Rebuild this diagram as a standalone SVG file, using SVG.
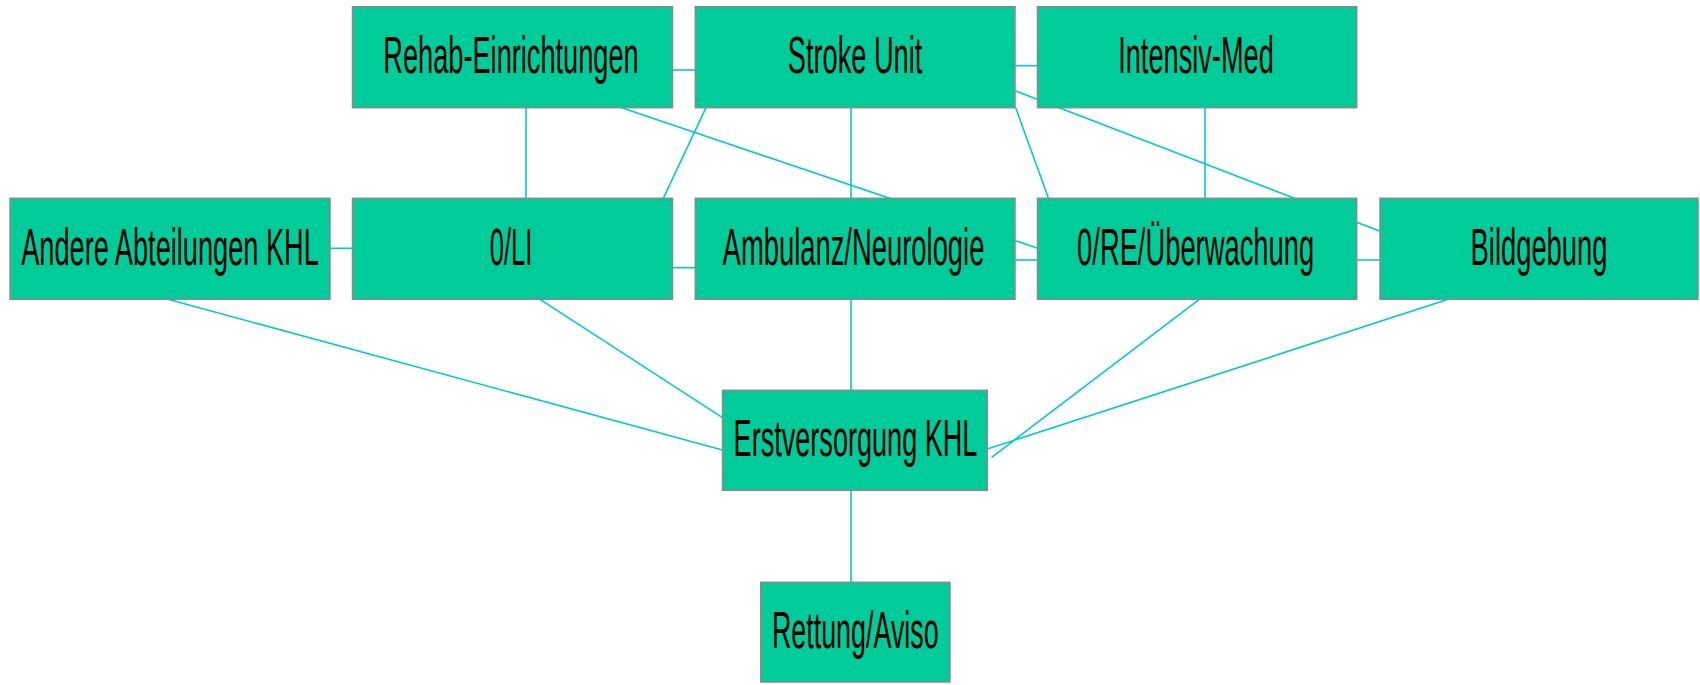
<svg xmlns="http://www.w3.org/2000/svg" width="1700" height="685" viewBox="0 0 1700 685">
<style>
.n{fill:#00CC99;stroke:#8a8a8a;stroke-width:1.5}
.t{font-family:"Liberation Sans",Arial,sans-serif;font-size:51px;fill:#000;text-anchor:middle}
.c line{stroke:#00CCCC;stroke-width:1.6;fill:none}
</style>
<rect width="1700" height="685" fill="#fff"/>
<g id="connectors" class="c">
<line x1="672" y1="70" x2="695" y2="70"/>
<line x1="1015" y1="65.7" x2="1038" y2="65.7"/>
<line x1="526" y1="107" x2="526" y2="199"/>
<line x1="621.7" y1="107.7" x2="1037.7" y2="248.3"/>
<line x1="706" y1="107.7" x2="663.3" y2="198.3"/>
<line x1="851" y1="107" x2="851" y2="199"/>
<line x1="1015.7" y1="107.7" x2="1048.3" y2="197.7"/>
<line x1="1015" y1="90.7" x2="1380" y2="231.3"/>
<line x1="1205" y1="107" x2="1205" y2="199"/>
<line x1="330" y1="248.3" x2="353" y2="248.3"/>
<line x1="672" y1="267.7" x2="696" y2="267.7"/>
<line x1="1015" y1="260" x2="1038" y2="260"/>
<line x1="1356" y1="260" x2="1380" y2="260"/>
<line x1="851" y1="299" x2="851" y2="391"/>
<line x1="168" y1="299.3" x2="722.5" y2="450"/>
<line x1="540" y1="299.3" x2="722.5" y2="417.6"/>
<line x1="1199.3" y1="299.3" x2="991.7" y2="457.3"/>
<line x1="1448.3" y1="299.3" x2="987.3" y2="449"/>
<line x1="851" y1="490" x2="851" y2="583"/>
</g>
<g id="rehab"><rect class="n" x="352.5" y="6.7" width="320" height="101"/><text class="t" transform="translate(511,73.3) scale(0.533,1)">Rehab-Einrichtungen</text></g>
<g id="stroke"><rect class="n" x="695.3" y="6.7" width="319.7" height="101"/><text class="t" transform="translate(855,73.3) scale(0.533,1)">Stroke Unit</text></g>
<g id="intensiv"><rect class="n" x="1037.5" y="6.7" width="319.2" height="101"/><text class="t" transform="translate(1196,73.3) scale(0.533,1)">Intensiv-Med</text></g>
<g id="andere"><rect class="n" x="10" y="198.3" width="320" height="101"/><text class="t" transform="translate(170,265) scale(0.533,1)">Andere Abteilungen KHL</text></g>
<g id="oli"><rect class="n" x="352.5" y="198.3" width="320" height="101"/><text class="t" transform="translate(511,265) scale(0.5,1)">0/LI</text></g>
<g id="ambulanz"><rect class="n" x="695.3" y="198.3" width="319.7" height="101"/><text class="t" transform="translate(853.5,265) scale(0.537,1)">Ambulanz/Neurologie</text></g>
<g id="ore"><rect class="n" x="1037.5" y="198.3" width="319.2" height="101"/><text class="t" transform="translate(1195.6,265) scale(0.536,1)">0/RE/Überwachung</text></g>
<g id="bildgebung"><rect class="n" x="1380" y="198.3" width="318" height="101"/><text class="t" transform="translate(1539,265) scale(0.536,1)">Bildgebung</text></g>
<g id="erst"><rect class="n" x="722.5" y="390.3" width="264.8" height="100"/><text class="t" transform="translate(855.5,456) scale(0.531,1)">Erstversorgung KHL</text></g>
<g id="rettung"><rect class="n" x="760.7" y="582.3" width="189.3" height="99.7"/><text class="t" transform="translate(855.3,648) scale(0.527,1)">Rettung/Aviso</text></g>
</svg>
